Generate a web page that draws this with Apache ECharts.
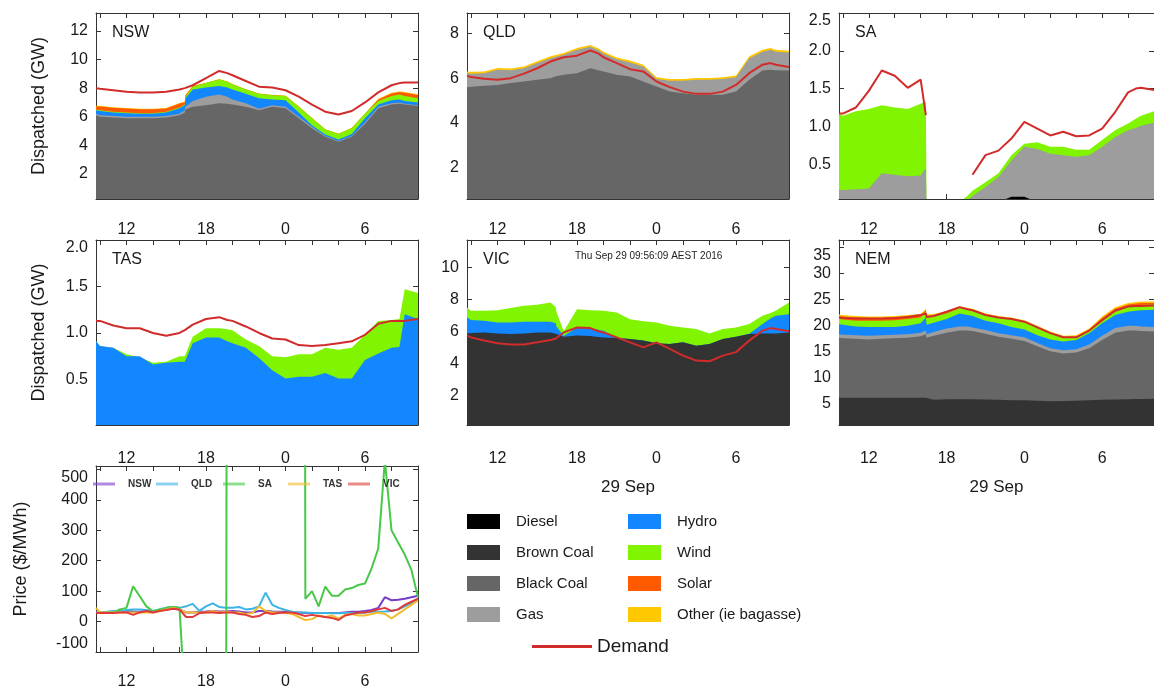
<!DOCTYPE html>
<html>
<head>
<meta charset="utf-8">
<script src="https://cdn.jsdelivr.net/npm/echarts@6/dist/echarts.min.js"></script>
<style>
  html, body { margin: 0; padding: 0; background: #fff; }
  #chart { width: 1154px; height: 692px; }
</style>
</head>
<body>
<div id="chart"></div>
<script>
// hours since 0:00 on 28 Sep (24 = midnight, 29 Sep)
const hours = [9.7, 10, 11, 12, 13, 14, 15, 16, 16.4, 16.45, 17, 18, 19, 19.6, 20, 21, 22, 23, 24, 25, 26, 27, 28, 29, 30, 31, 32, 32.6, 33, 34];
const tickHours = [10, 12, 14, 16, 18, 20, 22, 24, 26, 28, 30, 32, 34];
const labelHours = [12, 18, 24, 30];

// each fuel array is the upper edge of that fuel's band (GW, stacked from the bottom)
const nswDemand = [8.0, 7.95, 7.85, 7.75, 7.7, 7.7, 7.75, 7.9, 8.0, 8.0, 8.2, 8.7, 9.2, 9.05, 8.9, 8.5, 8.1, 8.05, 7.85, 7.4, 6.85, 6.35, 6.15, 6.4, 7.0, 7.7, 8.2, 8.35, 8.4, 8.4];
const nswBlackCoal = [6.1, 6.0, 5.95, 5.9, 5.9, 5.9, 5.95, 6.1, 6.3, 6.5, 6.7, 6.8, 6.95, 6.9, 6.85, 6.7, 6.45, 6.7, 6.6, 5.9, 5.2, 4.6, 4.25, 4.6, 5.5, 6.6, 6.85, 6.9, 6.85, 6.75];
const nswGas = [6.2, 6.1, 6.05, 6.0, 6.0, 6.0, 6.05, 6.2, 6.45, 6.7, 7.1, 7.4, 7.55, 7.4, 7.2, 6.95, 6.55, 6.8, 6.7, 6.0, 5.3, 4.65, 4.3, 4.65, 5.6, 6.7, 6.95, 7.0, 6.9, 6.8];
const nswHydro = [6.45, 6.4, 6.3, 6.25, 6.2, 6.2, 6.3, 6.6, 6.8, 7.3, 7.9, 8.05, 8.15, 8.05, 7.9, 7.6, 7.3, 7.2, 7.15, 6.3, 5.4, 4.75, 4.4, 4.8, 5.9, 6.85, 7.15, 7.2, 7.1, 7.0];
const nswWind = [6.5, 6.45, 6.35, 6.3, 6.25, 6.25, 6.35, 6.65, 6.85, 7.4, 8.1, 8.35, 8.6, 8.45, 8.25, 7.9, 7.6, 7.5, 7.45, 6.7, 5.9, 5.1, 4.8, 5.2, 6.2, 7.1, 7.45, 7.55, 7.45, 7.3];
const nswSolar = [6.72, 6.72, 6.62, 6.57, 6.52, 6.52, 6.57, 6.92, 7.02, 7.48, 8.13, 8.35, 8.6, 8.45, 8.25, 7.9, 7.6, 7.5, 7.45, 6.7, 5.9, 5.1, 4.8, 5.2, 6.2, 7.2, 7.62, 7.72, 7.67, 7.52];
const nswOther = [6.76, 6.76, 6.66, 6.61, 6.56, 6.56, 6.61, 6.96, 7.06, 7.52, 8.17, 8.38, 8.63, 8.48, 8.28, 7.93, 7.63, 7.53, 7.48, 6.73, 5.93, 5.13, 4.83, 5.23, 6.23, 7.25, 7.67, 7.77, 7.72, 7.57];

const qldDemand = [6.1, 6.05, 5.97, 5.93, 6.0, 6.2, 6.44, 6.74, 6.82, 6.83, 6.93, 7.0, 7.23, 7.1, 6.93, 6.67, 6.4, 6.3, 5.85, 5.6, 5.4, 5.3, 5.3, 5.4, 5.7, 6.22, 6.6, 6.67, 6.6, 6.5];
const qldBlackCoal = [5.6, 5.62, 5.66, 5.7, 5.78, 5.85, 5.93, 6.0, 6.08, 6.08, 6.15, 6.22, 6.44, 6.35, 6.3, 6.15, 6.07, 5.85, 5.63, 5.4, 5.33, 5.26, 5.26, 5.26, 5.4, 5.93, 6.34, 6.37, 6.35, 6.34];
const qldGas = [6.22, 6.2, 6.22, 6.37, 6.35, 6.44, 6.67, 6.89, 6.95, 6.96, 7.04, 7.26, 7.4, 7.25, 7.1, 6.84, 6.7, 6.52, 5.96, 5.88, 5.88, 5.93, 5.93, 5.96, 6.04, 6.89, 7.18, 7.26, 7.18, 7.14];
const qldOther = [6.3, 6.28, 6.3, 6.45, 6.43, 6.52, 6.75, 6.97, 7.03, 7.04, 7.12, 7.34, 7.48, 7.33, 7.18, 6.92, 6.78, 6.6, 6.04, 5.96, 5.96, 6.01, 6.01, 6.04, 6.12, 6.97, 7.26, 7.34, 7.26, 7.22];

const saDemand = [1.17, 1.17, 1.25, 1.47, 1.74, 1.67, 1.51, 1.62, 1.15, null, null, null, null, null, 0.36, 0.62, 0.68, 0.84, 1.06, 0.97, 0.88, 0.93, 0.87, 0.88, 0.97, 1.19, 1.45, 1.5, 1.51, 1.48];
const saDiesel = [0, 0, 0, 0, 0, 0, 0, 0, 0, 0, 0, 0, 0, 0, 0, 0, 0, 0.07, 0.07, 0, 0, 0, 0, 0, 0, 0, 0, 0, 0, 0];
const saGas = [0.16, 0.16, 0.17, 0.18, 0.38, 0.36, 0.34, 0.35, 0.45, 0, 0, 0, 0, 0.02, 0.08, 0.2, 0.33, 0.55, 0.73, 0.7, 0.64, 0.62, 0.6, 0.62, 0.73, 0.86, 0.95, 0.98, 1.01, 1.05];
const saWind = [1.17, 1.14, 1.2, 1.23, 1.28, 1.25, 1.23, 1.3, 1.33, 0, 0, 0, 0, 0.08, 0.15, 0.26, 0.38, 0.62, 0.77, 0.79, 0.73, 0.73, 0.69, 0.69, 0.82, 0.95, 1.04, 1.1, 1.14, 1.2];

const tasDemand = [1.13, 1.13, 1.08, 1.05, 1.05, 1.0, 0.97, 1.0, 1.03, 1.03, 1.09, 1.15, 1.17, 1.14, 1.13, 1.07, 1.0, 0.94, 0.93, 0.87, 0.86, 0.87, 0.89, 0.91, 0.98, 1.1, 1.13, 1.13, 1.13, 1.15];
const tasHydro = [0.91, 0.86, 0.84, 0.75, 0.75, 0.66, 0.68, 0.69, 0.69, 0.69, 0.89, 0.95, 0.95, 0.91, 0.89, 0.84, 0.73, 0.6, 0.51, 0.53, 0.53, 0.57, 0.51, 0.51, 0.71, 0.78, 0.84, 0.85, 1.2, 1.15];
const tasWind = [0.91, 0.86, 0.84, 0.77, 0.74, 0.68, 0.69, 0.75, 0.75, 0.75, 0.96, 1.05, 1.05, 1.04, 1.03, 0.93, 0.86, 0.75, 0.74, 0.77, 0.77, 0.84, 0.82, 0.84, 0.98, 1.13, 1.14, 1.15, 1.47, 1.43];

const vicDemand = [5.73, 5.62, 5.42, 5.25, 5.17, 5.17, 5.31, 5.46, 5.55, 5.56, 5.93, 6.24, 6.2, 6.0, 5.93, 5.62, 5.31, 5.0, 5.31, 4.9, 4.48, 4.17, 4.13, 4.48, 4.7, 5.42, 6.04, 6.2, 6.14, 6.0];
const vicBrownCoal = [5.87, 5.9, 5.93, 5.87, 5.83, 5.87, 5.93, 5.93, 5.85, 5.8, 5.66, 5.73, 5.7, 5.65, 5.62, 5.58, 5.52, 5.42, 5.25, 5.2, 5.31, 5.1, 5.2, 5.52, 5.66, 5.83, 5.87, 5.87, 5.87, 5.93];
const vicHydro = [6.87, 6.7, 6.66, 6.55, 6.55, 6.6, 6.6, 6.6, 6.5, 6.3, 5.7, 6.24, 6.2, 6.1, 6.04, 5.6, 5.52, 5.42, 5.25, 5.2, 5.31, 5.1, 5.2, 5.52, 5.66, 5.85, 6.45, 6.8, 6.97, 7.07];
const vicWind = [7.49, 7.28, 7.28, 7.32, 7.45, 7.59, 7.65, 7.8, 7.5, 7.2, 6.0, 7.38, 7.32, 7.3, 7.28, 7.18, 6.76, 6.62, 6.55, 6.35, 6.24, 6.14, 5.87, 6.14, 6.24, 6.45, 6.97, 7.15, 7.28, 7.8];

const nemDemand = [21.5, 21.4, 21.3, 21.3, 21.3, 21.4, 21.6, 22.0, 22.3, 21.6, 21.8, 22.6, 23.5, 23.1, 22.9, 22.0, 21.5, 21.2, 20.7, 19.6, 18.5, 17.7, 17.7, 19.0, 21.0, 22.8, 23.6, 23.7, 23.7, 23.8];
const nemBrownCoal = [6.1, 6.1, 6.1, 6.1, 6.1, 6.1, 6.1, 6.1, 6.1, 5.9, 5.7, 5.8, 5.8, 5.8, 5.8, 5.75, 5.7, 5.6, 5.6, 5.5, 5.4, 5.45, 5.5, 5.6, 5.7, 5.75, 5.8, 5.85, 5.85, 5.9];
const nemBlackCoal = [17.6, 17.5, 17.4, 17.3, 17.4, 17.5, 17.6, 17.9, 18.3, 17.6, 18.0, 18.6, 19.0, 19.0, 18.9, 18.4, 17.8, 17.4, 17.0, 16.0, 15.0, 14.6, 14.8, 15.6, 17.2, 18.6, 19.0, 19.0, 18.9, 18.8];
const nemGas = [18.3, 18.2, 18.1, 18.0, 18.1, 18.2, 18.3, 18.6, 19.0, 18.3, 18.7, 19.4, 19.8, 19.8, 19.6, 19.1, 18.5, 18.1, 17.7, 16.6, 15.6, 15.2, 15.4, 16.3, 18.0, 19.5, 19.9, 19.9, 19.8, 19.7];
const nemHydro = [20.2, 20.1, 19.8, 19.7, 19.7, 19.7, 19.9, 20.4, 21.5, 20.1, 20.5, 21.2, 22.3, 22.0, 21.8, 20.9, 20.4, 19.7, 19.2, 18.1, 17.3, 16.9, 17.2, 18.5, 20.4, 22.0, 22.6, 22.8, 22.9, 23.0];
const nemWind = [21.2, 21.1, 20.9, 20.9, 20.9, 21.0, 21.2, 21.5, 22.6, 21.5, 21.7, 22.3, 23.3, 23.1, 22.9, 22.0, 21.5, 21.2, 20.7, 19.6, 18.5, 17.7, 17.8, 19.1, 21.2, 22.9, 23.7, 23.8, 23.9, 24.0];
const nemSolar = [21.8, 21.7, 21.5, 21.4, 21.4, 21.5, 21.7, 21.9, 22.9, 21.8, 21.9, 22.4, 23.3, 23.1, 22.9, 22.0, 21.5, 21.2, 20.7, 19.6, 18.5, 17.7, 17.8, 19.1, 21.4, 23.2, 24.0, 24.2, 24.3, 24.3];
const nemOther = [22.1, 22.0, 21.8, 21.7, 21.7, 21.8, 22.0, 22.2, 23.2, 22.1, 22.2, 22.7, 23.6, 23.4, 23.2, 22.3, 21.8, 21.5, 21.0, 19.9, 18.8, 18.0, 18.1, 19.4, 21.7, 23.5, 24.3, 24.5, 24.6, 24.6];

// half-hourly prices ($/MWh)
const priceHours = [9.7, 10, 10.5, 11, 11.5, 12, 12.5, 13, 13.5, 14, 14.5, 15, 15.5, 16, 16.5, 17, 17.5, 18, 18.5, 19, 19.5, 20, 20.5, 21, 21.5, 22, 22.5, 23, 23.5, 24, 24.5, 25, 25.5, 26, 26.5, 27, 27.5, 28, 28.5, 29, 29.5, 30, 30.5, 31, 31.5, 32, 32.5, 33, 33.5, 34];
const priceNSW = [30, 30, 30, 32, 33, 35, 33, 32, 35, 33, 36, 40, 42, 40, 30, 30, 32, 33, 35, 33, 33, 35, 33, 30, 30, 35, 35, 33, 32, 32, 30, 30, 28, 28, 28, 28, 28, 28, 30, 32, 32, 35, 38, 45, 80, 70, 72, 75, 80, 85];
const priceQLD = [30, 30, 32, 35, 35, 38, 40, 40, 38, 35, 40, 45, 48, 45, 50, 58, 35, 50, 60, 48, 45, 45, 48, 40, 42, 50, 95, 55, 45, 38, 32, 30, 30, 28, 28, 28, 27, 27, 28, 28, 28, 30, 32, 32, 33, 35, 40, 50, 60, 75];
const priceSA = [28, 28, 30, 30, 40, 45, 116, 83, 50, 34, 40, 45, 48, 45, -320, -1000, -1000, -1000, -1000, -1000, -1000, 14000, 14000, 14000, 14000, 14000, 14000, 14000, 14000, 14000, 14000, 14000, 75, 100, 50, 115, 85, 85, 105, 110, 120, 125, 175, 240, 530, 300, 260, 220, 170, 80];
const priceTAS = [45, 30, 30, 30, 30, 30, 30, 30, 30, 30, 35, 40, 45, 40, 30, 30, 30, 30, 35, 30, 32, 30, 30, 25, 28, 50, 35, 30, 30, 28, 25, 15, 5, 8, 20, 15, 20, 10, 22, 25, 20, 20, 25, 30, 25, 10, 25, 40, 55, 70];
const priceVIC = [28, 28, 28, 28, 30, 30, 22, 30, 35, 30, 35, 38, 42, 40, 15, 15, 28, 30, 30, 28, 30, 30, 25, 22, 15, 18, 30, 25, 28, 30, 30, 25, 18, 22, 18, 15, 12, 5, 20, 25, 30, 30, 35, 40, 45, 35, 40, 55, 65, 75];

const FONT = '"Liberation Sans", Arial, Helvetica, sans-serif';
const fuelOrder = ['Diesel', 'Brown Coal', 'Black Coal', 'Gas', 'Hydro', 'Wind', 'Solar', 'Other (ie bagasse)'];
const fuelColor = {
  'Diesel': '#000000', 'Brown Coal': '#333333', 'Black Coal': '#666666', 'Gas': '#9d9d9d',
  'Hydro': '#1287ff', 'Wind': '#80f400', 'Solar': '#ff5a00', 'Other (ie bagasse)': '#ffc800'
};
const demandColor = '#d22b2b';

const panels = [
  { title: 'NSW', demand: nswDemand, fuels: { 'Black Coal': nswBlackCoal, 'Gas': nswGas, 'Hydro': nswHydro, 'Wind': nswWind, 'Solar': nswSolar, 'Other (ie bagasse)': nswOther } },
  { title: 'QLD', demand: qldDemand, fuels: { 'Black Coal': qldBlackCoal, 'Gas': qldGas, 'Other (ie bagasse)': qldOther } },
  { title: 'SA', demand: saDemand, fuels: { 'Diesel': saDiesel, 'Gas': saGas, 'Wind': saWind } },
  { title: 'TAS', demand: tasDemand, fuels: { 'Hydro': tasHydro, 'Wind': tasWind } },
  { title: 'VIC', demand: vicDemand, fuels: { 'Brown Coal': vicBrownCoal, 'Hydro': vicHydro, 'Wind': vicWind } },
  { title: 'NEM', demand: nemDemand, fuels: { 'Brown Coal': nemBrownCoal, 'Black Coal': nemBlackCoal, 'Gas': nemGas, 'Hydro': nemHydro, 'Wind': nemWind, 'Solar': nemSolar, 'Other (ie bagasse)': nemOther } }
];
const prices = [['NSW', priceNSW, '#7a3cc8'], ['QLD', priceQLD, '#3cb4e6'], ['SA', priceSA, '#48c848'], ['TAS', priceTAS, '#f2bc2c'], ['VIC', priceVIC, '#e03a3a']];

const grids = [
  { left: 96, top: 13, width: 322, height: 186 },
  { left: 467, top: 13, width: 322, height: 186 },
  { left: 839, top: 13, width: 322, height: 186 },
  { left: 96, top: 240, width: 322, height: 185 },
  { left: 467, top: 240, width: 322, height: 185 },
  { left: 839, top: 240, width: 322, height: 185 },
  { left: 96, top: 466, width: 322, height: 186 }
];
const yRange = [[0.25, 13.25], [0.62, 8.9], [0.04, 2.5], [0.01, 2.0], [0.15, 11.7], [0.85, 36.4], [-100, 511]];
const yLabels = [[2, 4, 6, 8, 10, 12], [2, 4, 6, 8], [0.5, 1, 1.5, 2, 2.5], [0.5, 1, 1.5, 2], [2, 4, 6, 8, 10], [5, 10, 15, 20, 25, 30, 35], [-100, 0, 100, 200, 300, 400, 500]];
const yNames = ['Dispatched (GW)', '', '', 'Dispatched (GW)', '', '', 'Price ($/MWh)'];
const xLabelMargin = [23, 23, 23, 26, 26, 26, 22];

const axisColor = '#333';
const labelStyle = { fontSize: 16, color: '#1a1a1a', fontFamily: FONT };

const xAxis = [], yAxis = [];
grids.forEach((g, i) => {
  const dated = i === 4 || i === 5;
  xAxis.push({
    gridIndex: i, type: 'value', min: 9.7, max: 34, position: 'bottom',
    axisLine: { show: true, onZero: false, lineStyle: { color: axisColor } },
    axisTick: { show: true, inside: true, length: 5, customValues: tickHours, lineStyle: { color: axisColor } },
    axisLabel: Object.assign({ customValues: labelHours, margin: xLabelMargin[i], formatter: v => String(v % 24) }, labelStyle),
    splitLine: { show: false },
    name: dated ? '29 Sep' : '', nameLocation: 'middle', nameGap: 54,
    nameTextStyle: Object.assign({}, labelStyle, { fontSize: 17 })
  });
  xAxis.push({
    gridIndex: i, type: 'value', min: 9.7, max: 34, position: 'top',
    axisLine: { show: true, onZero: false, lineStyle: { color: axisColor } },
    axisTick: { show: true, inside: true, length: 5, customValues: tickHours, lineStyle: { color: axisColor } },
    axisLabel: { show: false }, splitLine: { show: false }
  });
  const oneDecimal = i === 2 || i === 3;
  const edgeTop = i === 2 || i === 3 || i === 5 || i === 6;
  yAxis.push({
    gridIndex: i, type: 'value', min: yRange[i][0], max: yRange[i][1], position: 'left',
    axisLine: { show: true, onZero: false, lineStyle: { color: axisColor } },
    axisTick: { show: true, inside: true, length: 5, customValues: yLabels[i], lineStyle: { color: axisColor } },
    axisLabel: Object.assign({
      customValues: yLabels[i], margin: 8,
      formatter: v => oneDecimal ? v.toFixed(1) : String(v),
      verticalAlignMaxLabel: edgeTop ? 'top' : null,
      verticalAlignMinLabel: i === 6 ? 'bottom' : null
    }, labelStyle),
    splitLine: { show: false },
    name: yNames[i], nameLocation: 'middle', nameGap: i === 6 ? 66 : 48,
    nameTextStyle: Object.assign({}, labelStyle, { fontSize: 18 })
  });
  yAxis.push({
    gridIndex: i, type: 'value', min: yRange[i][0], max: yRange[i][1], position: 'right',
    axisLine: { show: true, onZero: false, lineStyle: { color: axisColor } },
    axisTick: { show: true, inside: true, length: 5, customValues: yLabels[i], lineStyle: { color: axisColor } },
    axisLabel: { show: false }, splitLine: { show: false }
  });
});

const series = [];
panels.forEach((p, i) => {
  // draw the highest band first, so each lower band paints over it
  fuelOrder.slice().reverse().forEach(f => {
    const arr = p.fuels[f];
    if (!arr) return;
    series.push({
      name: f, type: 'line', xAxisIndex: 2 * i, yAxisIndex: 2 * i,
      data: hours.map((h, k) => [h, arr[k]]),
      symbol: 'none', color: fuelColor[f], silent: true,
      lineStyle: { width: 0 },
      areaStyle: { color: fuelColor[f], opacity: 1, origin: 'start' }
    });
  });
  series.push({
    name: 'Demand', type: 'line', xAxisIndex: 2 * i, yAxisIndex: 2 * i,
    data: hours.map((h, k) => [h, p.demand[k] == null ? '-' : p.demand[k]]),
    symbol: 'none', color: demandColor, silent: true,
    lineStyle: { width: 2, color: demandColor }
  });
});
prices.forEach(([name, arr, c]) => {
  series.push({
    name, type: 'line', xAxisIndex: 12, yAxisIndex: 12,
    data: priceHours.map((h, k) => [h, arr[k]]),
    symbol: 'none', color: c, silent: true, clip: true,
    lineStyle: { width: 2, color: c }
  });
});

const titleStyle = { fontSize: 16, fontWeight: 'normal', color: '#1a1a1a', fontFamily: FONT };
const title = panels.map((p, i) => ({
  text: p.title, left: grids[i].left + 16, top: grids[i].top + 12, padding: 0, textStyle: titleStyle
}));
title.push({
  text: 'Thu Sep 29 09:56:09 AEST 2016', left: 575, top: 251, padding: 0,
  textStyle: { fontSize: 10, fontWeight: 'normal', color: '#222', fontFamily: FONT }
});

const legendText = { fontSize: 15, color: '#1a1a1a', fontFamily: FONT, padding: [0, 0, 0, 11], lineHeight: 15 };
const legend = [
  { data: fuelOrder.slice(0, 4), orient: 'vertical', left: 467, top: 514, itemWidth: 33, itemHeight: 15, itemGap: 16, icon: 'rect', selectedMode: false, padding: 0, textStyle: legendText },
  { data: fuelOrder.slice(4), orient: 'vertical', left: 628, top: 514, itemWidth: 33, itemHeight: 15, itemGap: 16, icon: 'rect', selectedMode: false, padding: 0, textStyle: legendText },
  { data: ['Demand'], left: 532, top: 637, itemWidth: 60, itemHeight: 3, icon: 'rect', selectedMode: false, padding: 0,
    textStyle: { fontSize: 19, color: '#1a1a1a', fontFamily: FONT } }
];
// price legend: one small entry per region, laid out across the top of the price panel
const priceLegendLeft = [93, 156, 223, 288, 348];
prices.forEach(([name], k) => {
  legend.push({
    data: [{ name, itemStyle: { opacity: 0.6 } }], left: priceLegendLeft[k], top: 479,
    itemWidth: 22, itemHeight: 3, icon: 'rect', selectedMode: false, padding: 0,
    textStyle: { fontSize: 10, fontWeight: 'bold', color: '#333', fontFamily: FONT, padding: [0, 0, 0, 8] }
  });
});

const chart = echarts.init(document.getElementById('chart'));
chart.setOption({
  animation: false,
  backgroundColor: '#fff',
  title, legend,
  grid: grids.map(g => Object.assign({ containLabel: false }, g)),
  xAxis, yAxis, series
});
</script>
</body>
</html>
